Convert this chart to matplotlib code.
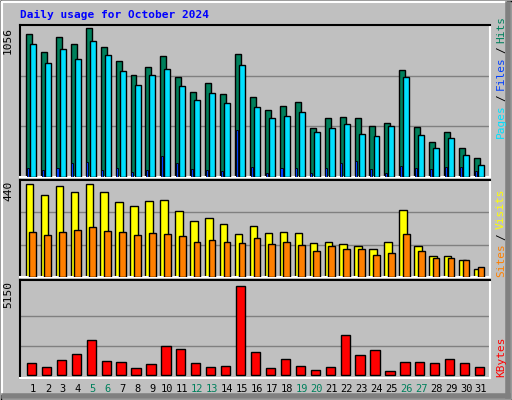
import matplotlib
matplotlib.use('Agg')
import matplotlib.pyplot as plt
from matplotlib.lines import Line2D
import numpy as np

################################################################################
# Data.                                                   #
################################################################################

days = list(range(1, 32))
weekend = [5, 6, 12, 13, 19, 20, 26, 27]

hits = [993, 866, 971, 922, 1035, 901, 803, 711, 767, 838, 697, 591, 655, 577, 852, 556,
        465, 493, 521, 338, 408, 415, 408, 352, 373, 746, 345, 246, 310, 204, 134]
files = [922, 795, 887, 823, 943, 845, 739, 640, 711, 753, 633, 535, 584, 514, 781, 486,
         408, 422, 450, 310, 338, 366, 296, 282, 352, 697, 289, 204, 268, 155, 84]
pages = [63, 49, 63, 99, 106, 49, 63, 35, 49, 148, 99, 56, 49, 42, 324, 70,
         28, 63, 63, 28, 63, 99, 113, 56, 28, 77, 63, 56, 70, 70, 42]
sites = [422, 371, 413, 385, 422, 385, 339, 321, 344, 349, 298, 253, 266, 239, 193, 230,
         198, 202, 198, 152, 161, 148, 139, 129, 157, 303, 139, 93, 97, 75, 38]
visits = [202, 189, 202, 212, 225, 207, 202, 189, 198, 193, 184, 157, 166, 161, 152, 175,
          148, 161, 143, 116, 139, 129, 125, 102, 111, 193, 120, 88, 84, 75, 47]
kbytes = [695, 470, 865, 1260, 2049, 808, 752, 414, 639, 1710, 1541, 695, 470, 526, 5150, 1372,
          414, 921, 526, 301, 470, 2331, 1203, 1485, 244, 752, 752, 695, 921, 695, 470]

################################################################################
# Plot.                                                                        #
################################################################################

W, H = 512, 400
BG = '#c0c0c0'
mono = 'DejaVu Sans Mono'
fig = plt.figure(figsize=(W/100, H/100), dpi=100, facecolor=BG)

def px_axes(x0, y0, x1, y1):
  # y measured from top in pixels
  return fig.add_axes([x0/W, 1-y1/H, (x1-x0)/W, (y1-y0)/H])

# Outer 3D frame.
fr = fig.add_axes([0, 0, 1, 1]); fr.set_axis_off(); fr.set_xlim(0, W); fr.set_ylim(H, 0)
fr.add_line(Line2D([0.5, W-0.5, W-0.5, 0.5, 0.5], [0.5, 0.5, H-0.5, H-0.5, 0.5], c='k', lw=1))
fr.add_line(Line2D([2, W-6], [2, 2], c='white', lw=1.5))
fr.add_line(Line2D([2, 2], [2, H-6], c='white', lw=1.5))
fr.add_line(Line2D([W-4, W-4], [4, H-4], c='#808080', lw=4))
fr.add_line(Line2D([4, W-4], [H-4, H-4], c='#808080', lw=4))
fr.text(20, 15, 'Daily usage for October 2024', color='#0000ff', fontsize=8, fontweight='bold',
        family=mono, va='center', ha='left')

xl = (0.13, 31.6)
x = np.array(days)

def panel(y0, y1, top):
  ax = px_axes(20, y0, 490, y1)
  ax.set_facecolor(BG)
  ax.set_xlim(*xl); ax.set_ylim(0, top)
  ax.set_xticks([]); ax.set_yticks([])
  for s in ['top', 'left']: ax.spines[s].set_color('k')
  for s in ['bottom', 'right']: ax.spines[s].set_color('white')
  for s in ax.spines.values(): s.set_linewidth(1.5)
  for g in [top/3, 2*top/3]:
    ax.axhline(g, c='#808080', lw=1, zorder=0)
  ax.text(-0.015, 0.99, '%d' % top, transform=ax.transAxes, rotation=90, ha='right', va='top',
          fontsize=8, family=mono)
  return ax

# Hits / Files / Pages.
ax = panel(25, 177, 1056)
ax.bar(x-0.27, hits, width=0.4, color='#00805c', edgecolor='k', lw=1, zorder=2)
ax.bar(x, files, width=0.4, color='#00e0ff', edgecolor='k', lw=1, zorder=3)
ax.bar(x-0.36, pages, width=0.14, color='#0040ff', edgecolor='k', lw=0.6, zorder=4)

# Sites / Visits.
ax = panel(180, 277, 440)
ax.bar(x-0.23, sites, width=0.5, color='#ffff00', edgecolor='k', lw=1, zorder=2)
ax.bar(x-0.01, visits, width=0.45, color='#ff8000', edgecolor='k', lw=1, zorder=3)

# KBytes.
ax = panel(280, 378, 5150)
ax.set_ylim(-5150*0.03, 5150*1.07)
ax.bar(x-0.1, kbytes, width=0.62, color='#ff0000', edgecolor='k', lw=1, zorder=2)

# Day labels.
for d in days:
  fr.text(20 + (d-xl[0])*470/(xl[1]-xl[0]), 389, str(d), ha='center', va='center', fontsize=7.5,
          family=mono, color='#00805c' if d in weekend else 'k')

# Right side legends (rotated, built bottom to top).
def vlegend(y_bottom, parts):
  y = y_bottom
  for txt, col in parts:
    fr.text(501, y, txt, rotation=90, ha='center', va='bottom', fontsize=8, family=mono, color=col)
    y -= len(txt)*6.6 + 4

vlegend(138, [('Pages', '#00e0ff'), ('/', 'k'), ('Files', '#0040ff'), ('/', 'k'), ('Hits', '#00805c')])
vlegend(277, [('Sites', '#ff8000'), ('/', 'k'), ('Visits', '#ffff00')])
vlegend(377, [('KBytes', '#ff0000')])

fig.savefig('out.png', dpi=100, facecolor=BG)
plt.close()
